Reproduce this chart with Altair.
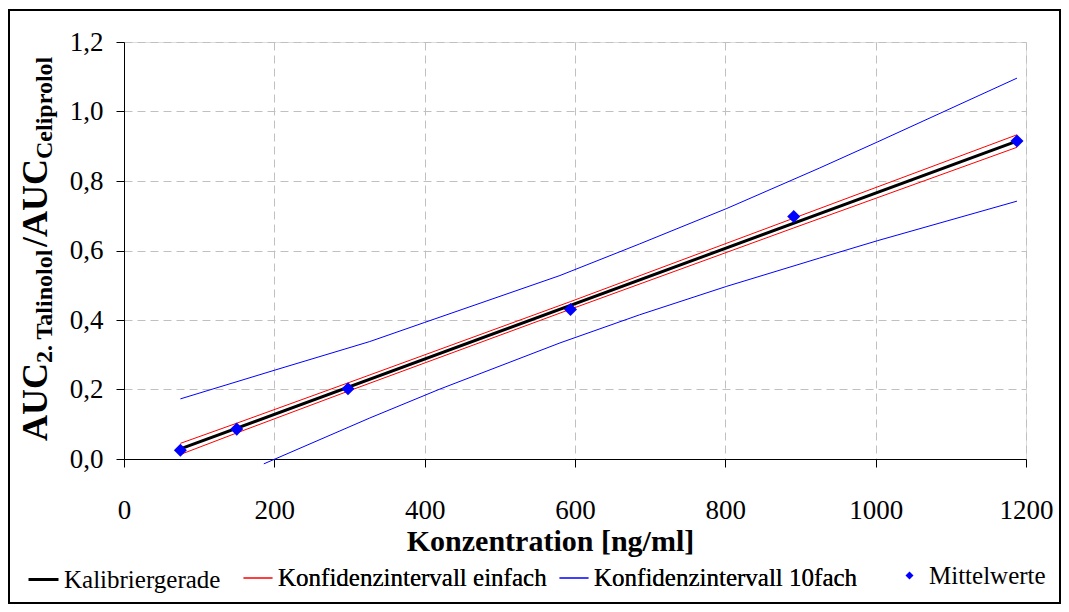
import altair as alt
import pandas as pd

# ---- data ----
series_names = ["Kalibriergerade", "Konfidenzintervall einfach",
                "Konfidenzintervall 10fach", "Mittelwerte"]
series_colors = ["#000000", "#ff0000", "#0000ff", "#0000ff"]

kal_x = [75, 1188]
kal_y = [0.029, 0.915]

red_x = [75, 150, 298, 594, 891, 1188]
red_upper = [0.045, 0.103, 0.219, 0.453, 0.693, 0.933]
red_lower = [0.013, 0.075, 0.195, 0.431, 0.665, 0.897]

blue_up_x = [75, 201, 327, 400, 580, 686, 802, 925, 1002, 1188]
blue_up_y = [0.173, 0.256, 0.338, 0.393, 0.528, 0.619, 0.721, 0.837, 0.912, 1.096]
blue_lo_x = [186, 201, 327, 420, 580, 686, 802, 925, 1002, 1188]
blue_lo_y = [-0.014, 0.0, 0.118, 0.201, 0.334, 0.415, 0.497, 0.578, 0.628, 0.742]

mw_x = [75, 150, 298, 594, 891, 1188]
mw_y = [0.025, 0.086, 0.202, 0.430, 0.698, 0.915]

x_ticks = [0, 200, 400, 600, 800, 1000, 1200]
y_ticks = [0.0, 0.2, 0.4, 0.6, 0.8, 1.0, 1.2]

W, H = 902, 417
FONT = "Liberation Serif"

# ---- tables ----
def line_df(xs, ys, series, curve):
    return pd.DataFrame({"x": xs, "y": ys, "series": series, "curve": curve})

kal_df = line_df(kal_x, kal_y, series_names[0], "k")
red_df = line_df(red_x, red_upper, series_names[1], "ru")
red_df = pd.concat([red_df, line_df(red_x, red_lower, series_names[1], "rl")])
blue_df = line_df(blue_up_x, blue_up_y, series_names[2], "bu")
blue_df = pd.concat([blue_df, line_df(blue_lo_x, blue_lo_y, series_names[2], "bl")])
mw_df = pd.DataFrame({"x": mw_x, "y": mw_y, "series": series_names[3]})

xscale = alt.Scale(domain=[0, 1200], nice=False, zero=False)
yscale = alt.Scale(domain=[0, 1.2], nice=False, zero=False)

LEG = dict(title=None, orient="none", direction="horizontal", legendY=521,
           labelFont=FONT, labelFontSize=25, labelColor="black", labelLimit=600)

leg_kal = alt.Legend(legendX=-97, symbolType="stroke", symbolSize=900,
                     symbolStrokeWidth=3, labelOffset=4, **LEG)
leg_ci = alt.Legend(legendX=119, symbolType="stroke", symbolSize=841,
                    symbolStrokeWidth=1, labelOffset=5, columnPadding=10, **LEG)
leg_mw = alt.Legend(legendX=773, symbolType="diamond", symbolSize=64,
                    symbolFillColor="#0000ff", symbolStrokeColor="#0000ff",
                    symbolStrokeWidth=0, labelOffset=7, **LEG)

xaxis = alt.Axis(
    values=x_ticks, format="d", title="Konzentration [ng/ml]",
    titleFont=FONT, titleFontSize=30, titleFontWeight="bold", titleColor="black",
    titleX=426, titleY=91, titleBaseline="alphabetic", titleAlign="center",
    labelFont=FONT, labelFontSize=27, labelColor="black",
    labelBaseline="alphabetic", labelPadding=51, labelFlush=False, labelOverlap=False,
    tickSize=8, tickColor="black", domainColor="black",
    grid=True, gridColor="#c0c0c0", gridDash=[8, 5], gridWidth=1,
)
yaxis = alt.Axis(
    values=y_ticks, title=None,
    labelExpr="replace(format(datum.value, '.1f'), '.', ',')",
    labelFont=FONT, labelFontSize=27, labelColor="black",
    labelPadding=13, labelFlush=False, labelOverlap=False,
    tickSize=8, tickColor="black", domainColor="black",
    grid=True, gridColor="#c0c0c0", gridDash=[8, 5], gridWidth=1,
)

X = alt.X("x:Q", scale=xscale, axis=xaxis)
Y = alt.Y("y:Q", scale=yscale, axis=yaxis)
CI = alt.Color("series:N", scale=alt.Scale(domain=series_names[1:3], range=series_colors[1:3]),
               legend=leg_ci)

blue = alt.Chart(blue_df).mark_line(strokeWidth=1).encode(x=X, y=Y, color=CI, detail="curve:N")
red = alt.Chart(red_df).mark_line(strokeWidth=1).encode(x=X, y=Y, color=CI, detail="curve:N")
kal = alt.Chart(kal_df).mark_line(strokeWidth=3).encode(
    x=X, y=Y,
    stroke=alt.Stroke("series:N", scale=alt.Scale(domain=series_names[:1], range=series_colors[:1]),
                      legend=leg_kal),
)
pts = alt.Chart(mw_df).mark_point(filled=True, opacity=1, size=170, color="#0000ff").encode(
    x=X, y=Y,
    shape=alt.Shape("series:N", scale=alt.Scale(domain=series_names[3:], range=["diamond"]),
                    legend=leg_mw),
)

# ---- y-axis title with subscripts (real text pieces) ----
one = pd.DataFrame({"a": [0]})
def ytext(txt, y, x, size):
    return alt.Chart(one).mark_text(
        text=txt, angle=270, align="left", baseline="alphabetic",
        font=FONT, fontSize=size, fontWeight="bold", color="black",
    ).encode(x=alt.value(x), y=alt.value(y))

ytitle = (ytext("AUC", 399, -77, 36) + ytext("2. Talinolol", 321, -72, 24)
          + ytext("/AUC", 205, -77, 36) + ytext("Celiprolol", 117, -72, 24))

frame = alt.Chart(one).mark_rect(filled=False, stroke="black", strokeWidth=2).encode(
    x=alt.value(-115), x2=alt.value(936), y=alt.value(-32), y2=alt.value(561)
)

chart = alt.layer(frame, blue, red, kal, pts, ytitle).resolve_scale(
    color="independent", stroke="independent", shape="independent"
).properties(
    width=W, height=H,
    autosize=alt.AutoSizeParams(type="none"),
    padding={"left": 116, "top": 34, "right": 35, "bottom": 145},
).configure_view(stroke=None).configure(background="white")

chart.save("out.html", embed_options={"renderer": "svg", "actions": False})
